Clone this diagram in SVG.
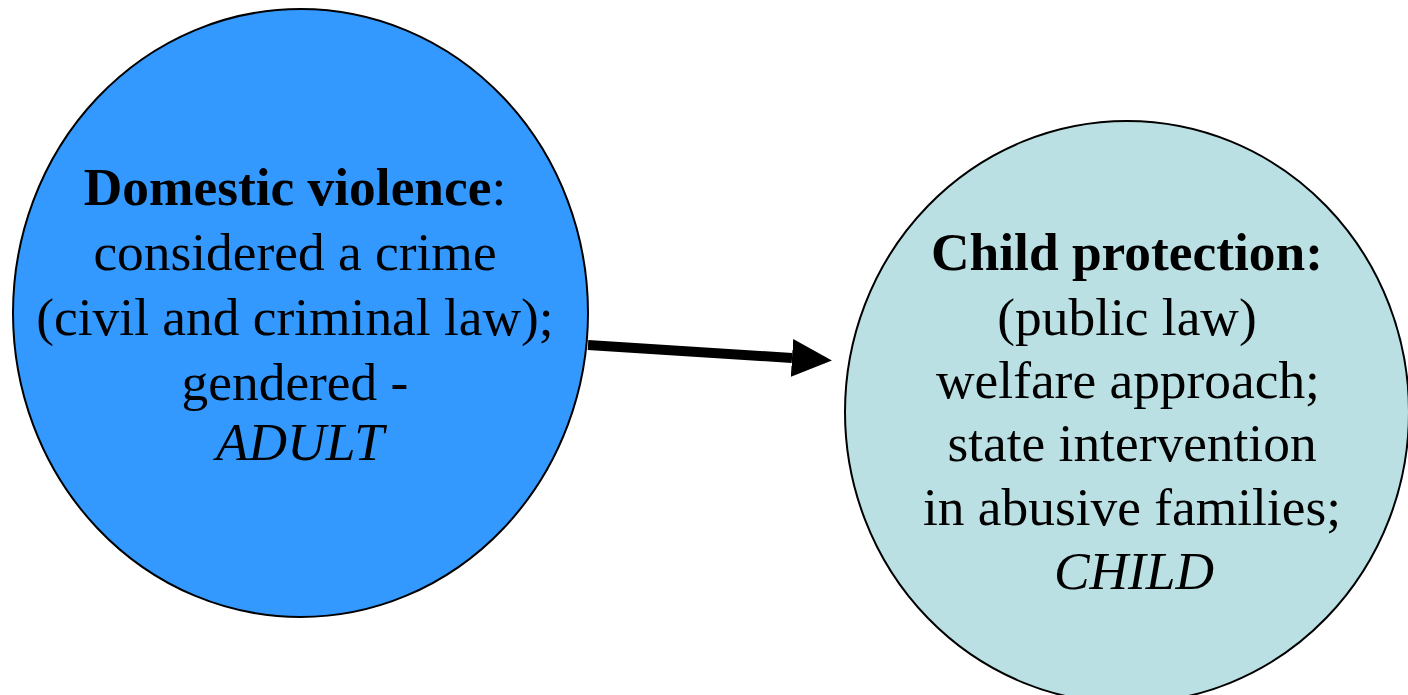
<svg xmlns="http://www.w3.org/2000/svg" width="1408" height="695" viewBox="0 0 1408 695">
<style>
.node{stroke:#000;stroke-width:2}
text{font-family:"Liberation Serif","Times New Roman",serif;font-size:53.4px;fill:#000;text-anchor:middle}
.b{font-weight:bold}
.i{font-style:italic}
</style>
<defs>
<marker id="ah" markerUnits="userSpaceOnUse" markerWidth="40" markerHeight="40" refX="0" refY="18" orient="auto" viewBox="0 0 38 36">
<polygon points="0,0 38,18 0,36" fill="#000"/>
</marker>
</defs>
<rect width="1408" height="695" fill="#fff"/>
<g id="connectors">
<line x1="588" y1="345" x2="792" y2="358" stroke="#000" stroke-width="10" marker-end="url(#ah)"/>
</g>
<g id="node-domestic">
<ellipse class="node" cx="300.5" cy="313" rx="287.5" ry="304" fill="#3399FF"/>
<text x="295" y="205"><tspan class="b">Domestic violence</tspan>:</text>
<text x="295" y="270">considered a crime</text>
<text x="295" y="335">(civil and criminal law);</text>
<text x="295" y="400">gendered -</text>
<text x="300" y="460" class="i">ADULT</text>
</g>
<g id="node-child">
<ellipse class="node" cx="1127" cy="412" rx="282" ry="291" fill="#BAE0E3"/>
<text x="1127" y="270" class="b">Child protection:</text>
<text x="1127" y="335">(public law)</text>
<text x="1128" y="398">welfare approach;</text>
<text x="1132" y="461">state intervention</text>
<text x="1132" y="525">in abusive families;</text>
<text x="1134" y="589" class="i">CHILD</text>
</g>
</svg>
